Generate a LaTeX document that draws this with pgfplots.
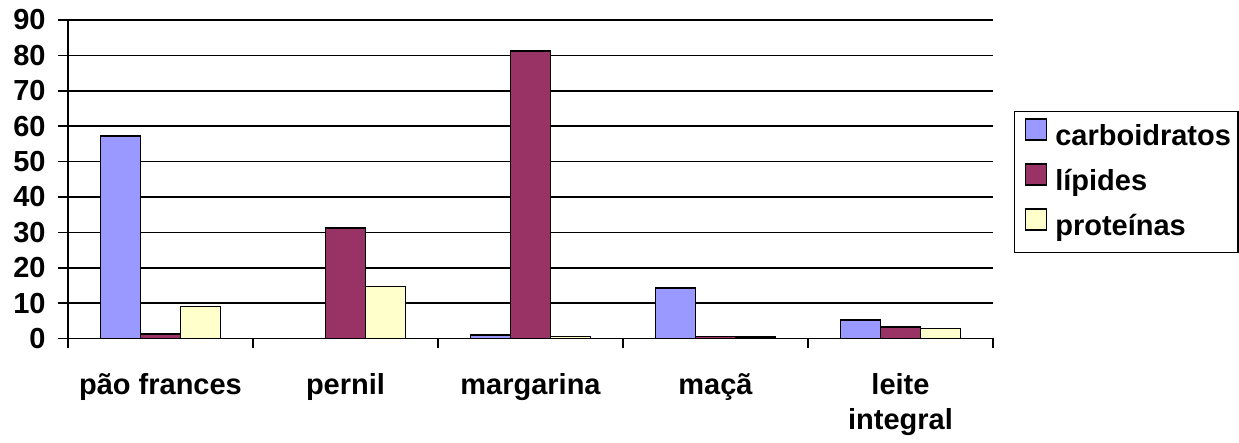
\documentclass[border=0pt]{standalone}
\usepackage{fontspec}
\setmainfont{Liberation Sans}
\usepackage{pgfplots}
\usepackage{pgfplotstable}
\pgfplotsset{compat=1.18}

\definecolor{carbo}{HTML}{9999FF}
\definecolor{lipid}{HTML}{993366}
\definecolor{prot}{HTML}{FFFFCC}
\newcommand\chartfont{\fontsize{14.5}{17.5}\selectfont\bfseries}

% grams per 100 g of food
\pgfplotstableread{
x carb lip prot
0 57.3 1.2 9.0
1 0    31.2 14.7
2 1.0  81.2 0.6
3 14.3 0.6 0.4
4 5.2  3.3 2.8
}\foodtable

\begin{document}
\begin{tikzpicture}
\useasboundingbox (0,0) rectangle (619.5pt,221.5pt);
\begin{axis}[
  at={(34pt,52.25pt)}, anchor=south west,
  scale only axis, width=462.5pt, height=159.25pt,
  xmin=-0.5, xmax=4.5, ymin=0, ymax=90,
  axis x line=bottom, axis y line=left,
  axis line style={-, line width=0.8pt, black},
  ytick={0,10,...,90},
  ymajorgrids, major grid style={black, line width=0.8pt},
  xtick={0,...,4},
  xticklabels={pão frances, pernil, margarina, maçã,
    {\begin{tabular}[t]{@{}c@{}}leite\\integral\end{tabular}}},
  minor xtick={-0.5,0.5,...,4.5},
  tick align=outside, major tick length=5pt, minor tick length=5pt,
  tick style={black, line width=0.8pt},
  major x tick style={draw=none},
  /pgf/number format/assume math mode=true,
  yticklabel style={font=\chartfont, anchor=east, xshift=-2.7pt},
  xticklabel style={font=\chartfont, anchor=base, yshift=-23.25pt},
  ybar legend/.style={/pgfplots/legend image code/.code={%
      \path (-3.5pt,0) (12.5pt,0);
      \draw[##1,line width=0.8pt] (0pt,-1.5pt) rectangle (10.5pt,9pt);}},
  ybar=0pt, bar width=20pt,
  legend style={at={(1.0227,0.7143)}, anchor=north west,
    draw=black, line width=0.7pt, inner xsep=1.5pt, inner ysep=1.5pt,
    font=\chartfont, row sep=0pt,
    nodes={inner xsep=2pt, inner ysep=0pt, text height=15.5pt, text depth=7pt}},
  legend cell align=left,
]
\addplot[fill=carbo, draw=black, line width=0.8pt] table[x=x, y=carb] {\foodtable};
\addplot[fill=lipid, draw=black, line width=0.8pt] table[x=x, y=lip] {\foodtable};
\addplot[fill=prot, draw=black, line width=0.8pt] table[x=x, y=prot] {\foodtable};
\legend{carboidratos, lípides, proteínas}
\end{axis}
\end{tikzpicture}
\end{document}
